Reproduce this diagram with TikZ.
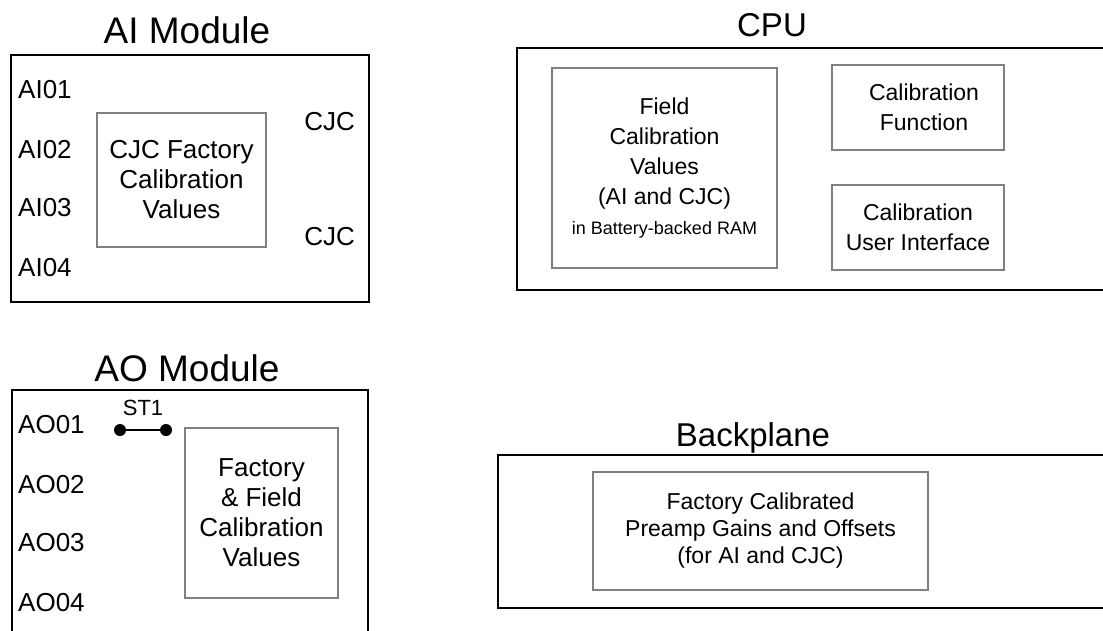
\documentclass[tikz,border=0pt]{standalone}
\usepackage{fontspec}
\setmainfont{Liberation Sans}
\usetikzlibrary{positioning}

\begin{document}
\begin{tikzpicture}[
    x=1pt, y=-1pt,
    outer/.style={draw, line width=2.6pt, inner sep=0pt},
    inner/.style={draw=black!50, line width=2.2pt, align=center, inner sep=0pt},
    modtitle/.style={font=\fontsize{37}{40}\selectfont},
    cputitle/.style={font=\fontsize{33}{38}\selectfont},
    modtext/.style={font=\fontsize{26}{30}\selectfont},
    cputext/.style={font=\fontsize{23}{30}\selectfont},
    pinlabel/.style={font=\fontsize{26}{30}\selectfont, inner sep=0pt},
    jdot/.style={circle, fill, inner sep=0pt, minimum size=12pt}
  ]
  \useasboundingbox (0,0) rectangle (1103,630);

  % AI module
  \node[modtitle] (aititle) at (187,30) {AI Module};
  \node[outer, minimum width=358pt, minimum height=247pt] (aibox) at (190,178.5) {};
  \node[pinlabel, anchor=west] (ai1) at (18,90) {AI01};
  \node[pinlabel, anchor=west] (ai2) at (18,150) {AI02};
  \node[pinlabel, anchor=west] (ai3) at (18,208) {AI03};
  \node[pinlabel, anchor=west] (ai4) at (18,268) {AI04};
  \node[pinlabel, anchor=east] (cjca) at (355,122) {CJC};
  \node[pinlabel, anchor=east] (cjcb) at (355,237) {CJC};
  \node[inner, modtext, minimum width=169pt, minimum height=134pt] (aifac)
    at (181.5,180) {CJC Factory\\Calibration\\Values};

  % CPU
  \node[cputitle] (cputitle) at (772,25) {CPU};
  \node[outer, minimum width=600pt, minimum height=242pt] (cpubox) at (817,169) {};
  \node[inner, cputext, minimum width=225pt, minimum height=200pt] (fieldcal)
    at (664.5,168) {Field\\Calibration\\Values\\(AI and CJC)\\
    {\fontsize{18}{28}\selectfont in Battery-backed RAM}};
  \node[inner, cputext, minimum width=172pt, minimum height=85pt] (calfn)
    at (918,107.5) {\hspace*{12pt}Calibration\\\hspace*{12pt}Function};
  \node[inner, cputext, minimum width=172pt, minimum height=85pt] (calui)
    at (918,227.5) {Calibration\\User Interface};

  % AO module
  \node[modtitle] (aotitle) at (187,368) {AO Module};
  \node[outer, minimum width=356pt, minimum height=260pt] (aobox) at (190,520) {};
  \node[pinlabel, anchor=west] (ao1) at (18,425) {AO01};
  \node[pinlabel, anchor=west] (ao2) at (18,485) {AO02};
  \node[pinlabel, anchor=west] (ao3) at (18,543) {AO03};
  \node[pinlabel, anchor=west] (ao4) at (18,603) {AO04};
  \node[jdot] (sta) at (120,430) {};
  \node[jdot] (stb) at (166,430) {};
  \draw[line width=2.5pt] (sta) -- (stb);
  \node[font=\fontsize{22}{24}\selectfont] (st1) at (143,408) {ST1};
  \node[inner, modtext, minimum width=153pt, minimum height=170pt] (aofac)
    at (261.5,513) {Factory\\\& Field\\Calibration\\Values};

  % Backplane
  \node[cputitle] (bptitle) at (753,438) {Backplane};
  \node[outer, minimum width=612pt, minimum height=153pt] (bpbox) at (804,531.5) {};
  \node[inner, cputext, minimum width=335pt, minimum height=118pt,
        font=\fontsize{23}{27}\selectfont] (bpfac)
    at (760.5,531) {Factory Calibrated\\Preamp Gains and Offsets\\(for AI and CJC)};
\end{tikzpicture}
\end{document}
